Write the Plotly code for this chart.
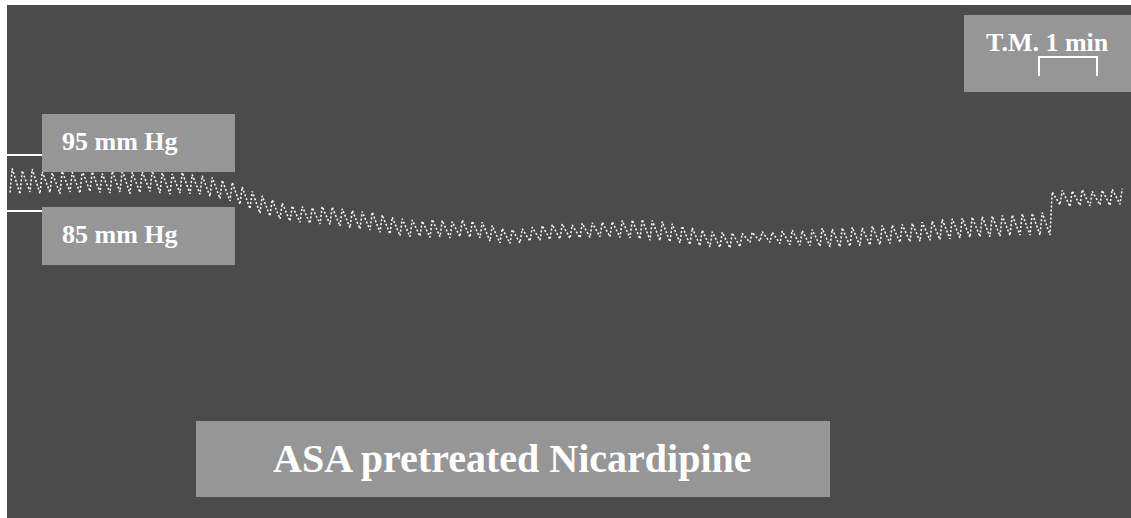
import plotly.graph_objects as go

# ---------------- data (read from the tracing) ----------------
# beat-by-beat systolic / diastolic pressures, mm Hg
systolic = [
    92.6, 92.2, 92.5, 92.0,
    91.8, 92.1, 91.9, 92.2, 92.0, 91.7, 92.1, 92.3, 91.9, 92.0, 92.2, 91.8, 91.6, 91.9, 91.5, 91.3,
    91.0, 90.5, 90.1, 89.3, 88.5,
    87.7, 87.0, 86.4, 85.9, 85.8, 85.6, 85.8, 85.7, 85.4, 85.1, 84.9, 84.8, 84.3, 83.9, 83.6,
    83.4, 83.2, 83.5, 83.3, 83.1, 83.4, 83.2, 83.0,
    82.4, 81.9, 81.7, 81.8, 82.1, 82.4,
    82.6, 82.7, 82.5, 82.8, 82.9, 83.0,
    83.1, 83.3, 83.4, 83.5, 83.3, 83.1,
    82.7, 82.3, 82.0, 81.6, 81.3, 81.2, 81.1, 81.0,
    81.2, 81.3, 81.2, 81.4, 81.6, 81.5,
    81.7, 81.9, 81.8, 82.0, 82.1, 82.0, 82.3, 82.4, 82.5, 82.6,
    82.8, 83.0, 83.2, 83.5, 83.6, 83.7, 83.9, 84.0, 84.1, 84.2, 84.3, 84.5, 84.6, 84.7,
    88.4, 88.7, 88.6, 88.8, 88.5, 88.7, 88.9, 89.0,
]
diastolic = [
    88.3, 88.0, 88.4, 88.1,
    88.3, 88.1, 88.4, 88.2, 88.5, 88.3, 88.2, 88.4, 88.1, 88.3, 88.5, 88.2, 88.0, 88.2, 88.1, 88.0,
    87.6, 87.2, 86.8, 86.2, 85.4,
    84.6, 84.1, 83.6, 83.2, 83.0, 82.8, 82.7, 82.6, 82.3, 82.0, 81.8, 81.6, 81.2, 80.9, 80.6,
    80.4, 80.5, 80.3, 80.4, 80.2, 80.4, 80.3, 80.2,
    79.6, 79.3, 79.2, 79.3, 79.6, 79.8,
    79.9, 80.0, 80.1, 80.2, 80.3, 80.4,
    80.4, 80.3, 80.2, 80.0, 79.8, 79.7,
    79.5, 79.3, 79.0, 78.8, 78.6, 78.5, 78.4, 78.6,
    79.4, 79.6, 79.4, 79.2, 79.0, 78.9,
    78.8, 78.7, 78.6, 78.6, 78.7, 78.8, 78.9, 79.0, 79.2, 79.4,
    79.5, 79.6, 79.8, 79.9, 80.0, 80.2, 80.3, 80.4, 80.4, 80.5, 80.6, 80.7, 80.7, 80.7,
    80.7, 86.1, 85.8, 86.0, 85.9, 86.1, 86.0, 86.2,
]
beat_interval_min = 10 / 58      # recording time between beats (min)
first_beat_min = 3 / 58
calibration_levels = [95, 85]    # mm Hg
calibration_labels = ["95 mm Hg", "85 mm Hg"]
time_marker_label = "T.M. 1 min"
time_marker_min = 1.0
title_text = "ASA pretreated Nicardipine"

# ---------------- build trace ----------------
xs, ys = [], []
for i, (s, d) in enumerate(zip(systolic, diastolic)):
    t = first_beat_min + i * beat_interval_min
    xs += [t, t + 0.22 * beat_interval_min]
    ys += [d, s]

W, H = 1131, 518
L, T = 7, 5
PX_PER_MIN = 58.0
PX_PER_MMHG = 5.6
Y95_PX = 155.0

def ymm(py):
    return 95 - (py - Y95_PX) / PX_PER_MMHG

def tmin(px):
    return (px - L) / PX_PER_MIN

def pxp(px):
    return (px - L) / (W - L)

def pyp(py):
    return (H - py) / (H - T)

DARK = "#4b4b4b"
BOX = "#969696"
FONT = "Liberation Serif"

fig = go.Figure()
fig.add_trace(go.Scatter(
    x=xs, y=ys, mode="lines",
    line=dict(color="white", width=1.5, dash="2px,2px"),
    hoverinfo="skip", showlegend=False,
))

shapes = []
# calibration lines
for lvl in calibration_levels:
    shapes.append(dict(type="line", xref="x", yref="y", x0=0, x1=tmin(42), y0=lvl, y1=lvl,
                       line=dict(color="white", width=2), layer="above"))

def box(x0, y0, x1, y1):
    return dict(type="rect", xref="paper", yref="paper",
                x0=pxp(x0), x1=pxp(x1), y0=pyp(y1), y1=pyp(y0),
                fillcolor=BOX, line=dict(width=0), layer="above")

shapes += [box(42, 114, 235, 172), box(42, 207, 235, 265),
           box(964, 15, 1131, 92), box(196, 421, 830, 497)]

# time-marker bracket (1 min in data units)
tm_x0 = tmin(1039)
shapes.append(dict(type="path", xref="x", yref="y",
                   path=f"M {tm_x0},{ymm(76)} L {tm_x0},{ymm(57)} L {tm_x0 + time_marker_min},{ymm(57)} L {tm_x0 + time_marker_min},{ymm(76)}",
                   line=dict(color="white", width=2), layer="above"))

annotations = [
    dict(text=f"<b>{calibration_labels[0]}</b>", xref="paper", yref="paper", x=pxp(60), y=pyp(141),
         xanchor="left", yanchor="middle", showarrow=False, font=dict(family=FONT, size=26, color="white")),
    dict(text=f"<b>{calibration_labels[1]}</b>", xref="paper", yref="paper", x=pxp(60), y=pyp(234),
         xanchor="left", yanchor="middle", showarrow=False, font=dict(family=FONT, size=26, color="white")),
    dict(text=f"<b>{time_marker_label}</b>", xref="paper", yref="paper", x=pxp(1047), y=pyp(42),
         xanchor="center", yanchor="middle", showarrow=False, font=dict(family=FONT, size=26, color="white")),
    dict(text=f"<b>{title_text}</b>", xref="paper", yref="paper", x=pxp(512), y=pyp(458),
         xanchor="center", yanchor="middle", showarrow=False, font=dict(family=FONT, size=40, color="white")),
]

fig.update_layout(
    width=W, height=H, autosize=False,
    margin=dict(l=L, r=0, t=T, b=0, pad=0),
    paper_bgcolor="white", plot_bgcolor=DARK,
    xaxis=dict(range=[0, tmin(W)], visible=False, fixedrange=True),
    yaxis=dict(range=[ymm(H), ymm(T)], visible=False, fixedrange=True),
    shapes=shapes, annotations=annotations, showlegend=False,
)

fig.write_html("out.html", config={"displayModeBar": False},
               post_script="document.body.style.margin='0';document.body.style.overflow='hidden';")
